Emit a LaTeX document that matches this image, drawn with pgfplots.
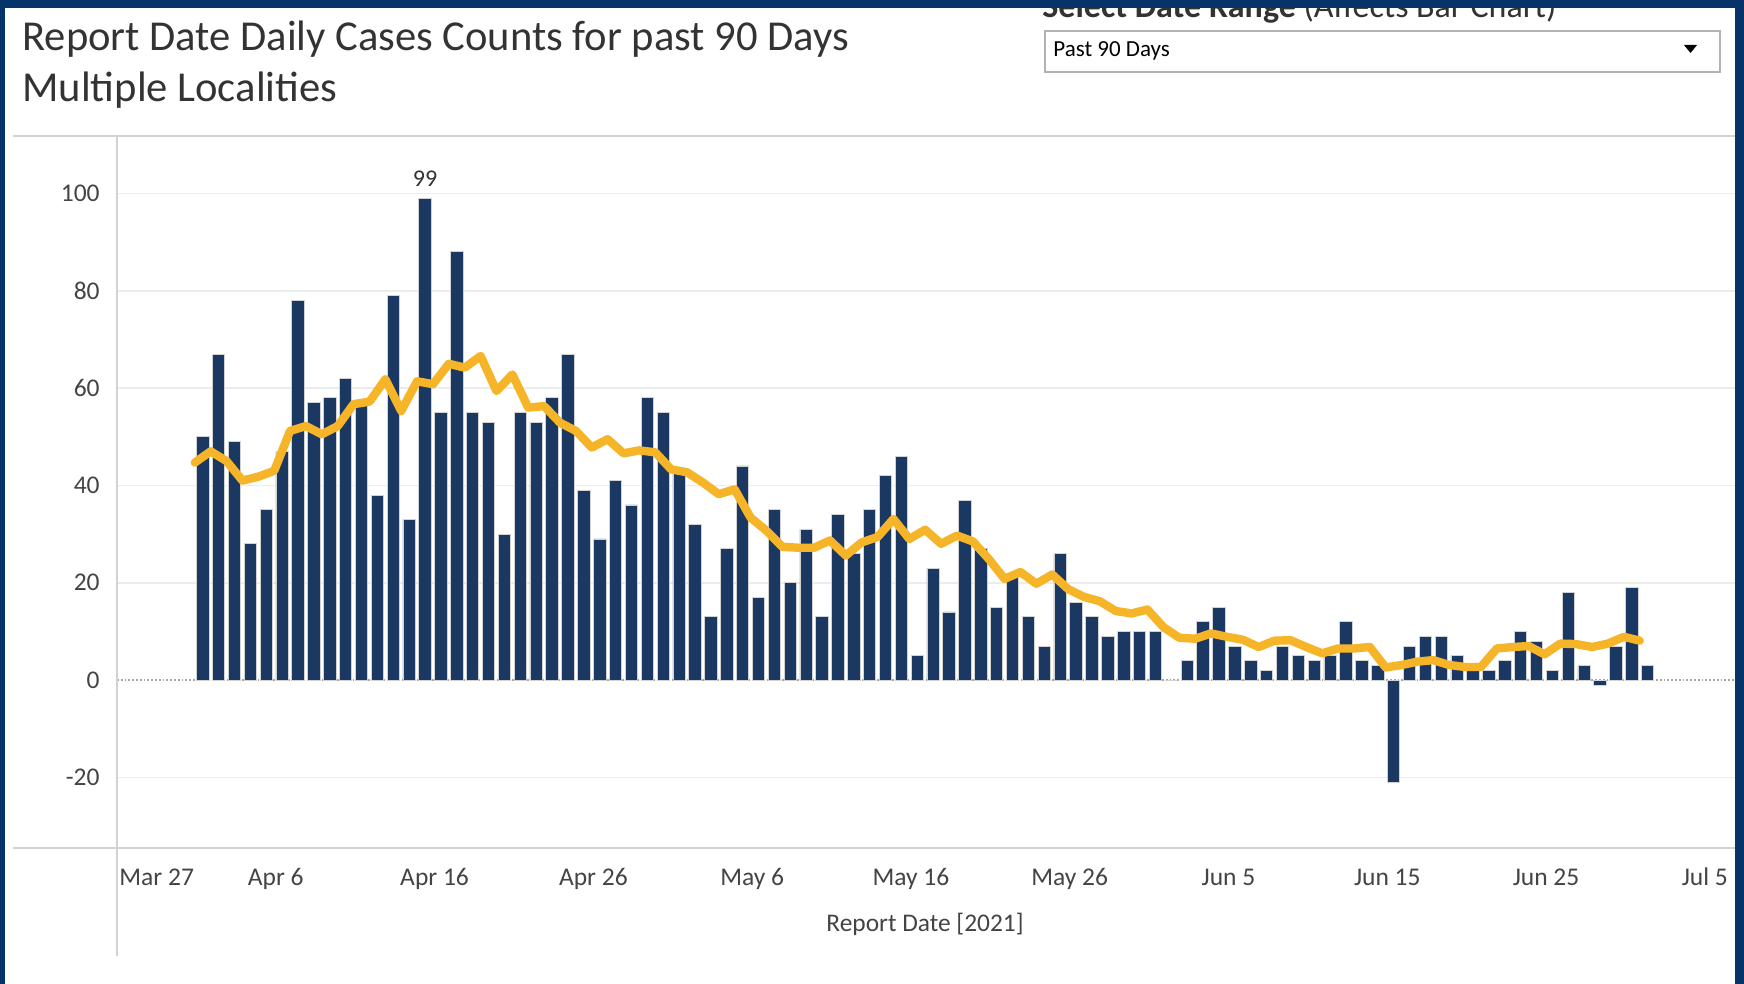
\documentclass[border=0pt]{standalone}
\usepackage{fontspec}
\setmainfont{Carlito}
\usepackage{pgfplots}
\pgfplotsset{compat=1.18}
\usepackage{pgfplotstable}
\definecolor{frame}{RGB}{6,52,105}
\definecolor{barblue}{RGB}{27,56,99}
\definecolor{gold}{RGB}{246,181,40}
\definecolor{txt}{RGB}{51,51,51}
\definecolor{ticktxt}{RGB}{68,68,68}
\definecolor{gridc}{RGB}{236,236,236}
\definecolor{paneline}{RGB}{210,210,210}

\pgfplotstableread{
d c a
5 50 44.7
6 67 47
7 49 45
8 28 41
9 35 41.8
10 47 43
11 78 51.2
12 57 52.2
13 58 50.5
14 62 52.2
15 57 56.7
16 38 57.2
17 79 61.8
18 33 55.3
19 99 61.4
20 55 60.8
21 88 65
22 55 64.2
23 53 66.6
24 30 59.4
25 55 62.8
26 53 56
27 58 56.3
28 67 52.9
29 39 51.2
30 29 47.8
31 41 49.5
32 36 46.6
33 58 47.2
34 55 46.8
35 43 43.3
36 32 42.7
37 13 40.6
38 27 38.2
39 44 39.2
40 17 33.4
41 35 30.7
42 20 27.4
43 31 27.2
44 13 27.2
45 34 28.7
46 26 25.6
47 35 28.3
48 42 29.4
49 46 33.1
50 5 29
51 23 30.9
52 14 28
53 37 29.7
54 27 28.5
55 15 24.9
56 22 20.8
57 13 22.2
58 7 19.8
59 26 21.7
60 16 18.7
61 13 17.1
62 9 16.2
63 10 14.2
64 10 13.7
65 10 14.5
66 0 10.9
67 4 8.7
68 12 8.5
69 15 9.6
70 7 8.9
71 4 8.3
72 2 6.8
73 7 8.1
74 5 8.2
75 4 6.8
76 5 5.5
77 12 6.5
78 4 6.5
79 3 6.8
80 -21 2.6
81 7 3.1
82 9 3.8
83 9 4.1
84 5 3.1
85 2 2.7
86 2 2.7
87 4 6.5
88 10 6.8
89 8 7
90 2 5.3
91 18 7.5
92 3 7.4
93 -1 6.8
94 7 7.5
95 19 8.9
96 3 8.1
}\data

\begin{document}
\begin{tikzpicture}[x=0.5pt,y=-0.5pt]
\path[use as bounding box] (0,0) rectangle (1744,984);
\fill[frame] (0,0) rectangle (1744,984);
\fill[white] (5,8) rectangle (1735,984);

% header widget text (cut at the top, as in the reference)
\node[anchor=base west, inner sep=0pt, text=txt, font=\fontsize{17pt}{20pt}\selectfont] at (1042,18) {\textbf{Select Date Range} (Affects Bar Chart)};
\fill[frame] (0,0) rectangle (1744,8);

% title
\node[anchor=base west, inner sep=0pt, text=txt, font=\fontsize{21.3pt}{25pt}\selectfont] at (22,51) {Report Date Daily Cases Counts for past 90 Days};
\node[anchor=base west, inner sep=0pt, text=txt, font=\fontsize{21.3pt}{25pt}\selectfont] at (22,102) {Multiple Localities};

% dropdown
\draw[draw=gray!60, line width=0.6pt] (1045,31) rectangle (1720,72);
\node[anchor=west, inner sep=0pt, text=black, font=\fontsize{11.5pt}{13pt}\selectfont] at (1053,51) {Past 90 Days};
\fill[black] (1684,45) -- (1697,45) -- (1690.5,53) -- cycle;

% separator
\draw[paneline, line width=1pt] (13,136) -- (1735,136);

\begin{axis}[
  at={(58.5pt,-424pt)}, anchor=south west,
  scale only axis, width=809pt, height=356pt,
  xmin=0, xmax=101.9, ymin=-34.5, ymax=111.8,
  axis line style={draw=none},
  major tick length=0pt,
  xtick={10,20,...,100},
  xticklabels={Apr 6,Apr 16,Apr 26,May 6,May 16,May 26,Jun 5,Jun 15,Jun 25,Jul 5},
  extra x ticks={0}, extra x tick labels={Mar 27},
  extra x tick style={xticklabel style={anchor=base west, xshift=1pt}},
  xticklabel style={anchor=base, yshift=-18.75pt, inner sep=0pt, text=ticktxt, font=\fontsize{12.75pt}{14pt}\selectfont},
  ytick={-20,20,40,60,80,100},
  yticklabels={-20,20,40,60,80,100},
  extra y ticks={0}, extra y tick labels={0},
  extra y tick style={ymajorgrids=true, major grid style={densely dotted, draw=gray!70, line width=0.7pt}},
  yticklabel style={anchor=east, xshift=-8.5pt, inner sep=0pt, text=ticktxt, font=\fontsize{12.75pt}{14pt}\selectfont},
  ymajorgrids, major grid style={draw=gridc, line width=0.9pt},
]
\addplot[ybar, bar width=6.2pt, fill=barblue, draw=gray!35, line width=0.4pt]
  table[x expr=\thisrow{d}+0.4, y=c] {\data};
\addplot[gold, line width=4.2pt, line join=round, line cap=round]
  table[x expr=\thisrow{d}-0.1, y=a] {\data};
\node[anchor=base, inner sep=0pt, text=txt, font=\fontsize{12pt}{14pt}\selectfont, yshift=6pt] at (axis cs:19.4,99) {99};
\end{axis}

% pane borders
\draw[paneline, line width=0.6pt] (117,136) -- (117,956);
\draw[paneline, line width=1pt] (13,848) -- (1735,848);

% axis title
\node[anchor=base, inner sep=0pt, text=ticktxt, font=\fontsize{12.7pt}{14pt}\selectfont] at (925,931) {Report Date [2021]};
\end{tikzpicture}
\end{document}
